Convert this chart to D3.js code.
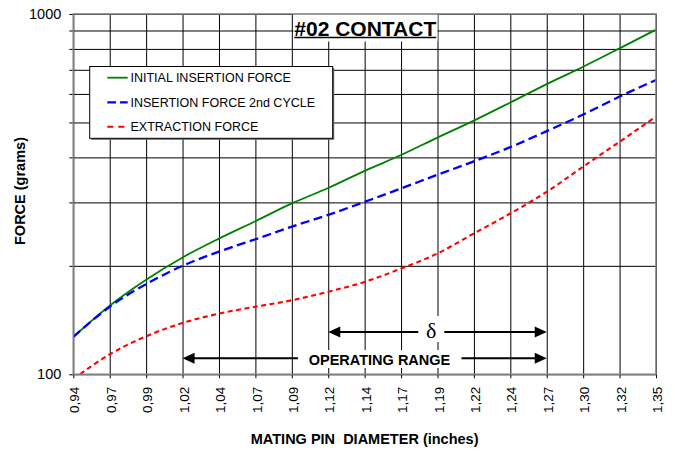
<!DOCTYPE html>
<html><head><meta charset="utf-8">
<script src="https://cdn.jsdelivr.net/npm/d3@7"></script>
<style>
body{margin:0;background:#fff}
svg{display:block}
text{font-family:"Liberation Sans",Arial,Helvetica,sans-serif;fill:#000}
</style>
</head><body>
<svg id="c" width="675" height="451"></svg>
<script>
// ---- data ----
const categories = ["0,94","0,97","0,99","1,02","1,04","1,07","1,09","1,12","1,14","1,17","1,19","1,22","1,24","1,27","1,30","1,32","1,35"];
const initialInsertion = [127,155,183,211,238,266,298,329,367,406,454,506,568,639,714,803,905];
const insertion2nd     = [127,154,178,200,219,237,257,277,301,328,358,390,427,473,526,590,656];
const extraction       = [97,113.6,127.5,138.8,147.4,154,160.5,169.5,180.5,196.5,216.5,246,279.5,321,377,442,519];
const seriesNames = ["INITIAL INSERTION FORCE","INSERTION FORCE 2nd CYCLE","EXTRACTION FORCE"];
const gridValues = [100,200,300,400,500,600,700,800,900,1000];
const yLabelValues = [100,1000];
const deltaRange = ["1,12","1,27"];
const operatingRange = ["1,02","1,27"];
const titleText = "#02 CONTACT";
const xTitle = "MATING PIN  DIAMETER (inches)";
const yTitle = "FORCE (grams)";

// ---- layout ----
const m = {l:73.3, r:656, t:14, b:374.3};
const pw = m.r - m.l, ph = m.b - m.t;
const svg = d3.select("#c");
const x = d3.scalePoint().domain(categories).range([m.l, m.r]);
const y = d3.scaleLog().domain([100,1000]).range([m.b, m.t]);

// grid (horizontal) with left ticks
const gY = svg.append("g").attr("transform",`translate(${m.l-4},0)`)
  .call(d3.axisRight(y).tickValues(gridValues).tickSize(pw+4).tickFormat(""));
gY.select(".domain").remove();
gY.selectAll("line").attr("stroke","#000").attr("stroke-width",1);

// grid (vertical) with bottom ticks
const gX = svg.append("g").attr("transform",`translate(0,${m.b+4})`)
  .call(d3.axisTop(x).tickSize(ph+4).tickFormat(""));
gX.select(".domain").remove();
gX.selectAll("line").attr("stroke","#000").attr("stroke-width",1);

// y labels
const yl = svg.append("g").attr("transform",`translate(${m.l},0)`)
  .call(d3.axisLeft(y).tickValues(yLabelValues).tickSize(0).tickPadding(12).tickFormat(d3.format("d")));
yl.select(".domain").remove();
yl.selectAll("text").style("font-size","14.5px").attr("fill","#000");

// x labels rotated
const xl = svg.append("g").attr("transform",`translate(0,${m.b})`)
  .call(d3.axisBottom(x).tickSize(0));
xl.select(".domain").remove();
xl.selectAll("text").style("font-size","13.5px").attr("fill","#000")
  .attr("transform","rotate(-90)").attr("x",-12.5).attr("y",0).attr("dy","0.42em")
  .style("text-anchor","end");

// clip
svg.append("clipPath").attr("id","clip").append("rect")
  .attr("x",m.l).attr("y",m.t).attr("width",pw).attr("height",ph);

const line = d3.line().x((d,i)=>x(categories[i])).y(d=>y(d)).curve(d3.curveMonotoneX);
const styles = [
  {data:initialInsertion, color:"#008000", dash:null, w:1.8},
  {data:insertion2nd, color:"#0000ff", dash:"9,4.5", w:2.3},
  {data:extraction, color:"#ff0000", dash:"5,3.5", w:2.1}
];
const gl = svg.append("g").attr("clip-path","url(#clip)");
styles.forEach(s=>{
  gl.append("path").attr("d",line(s.data)).attr("fill","none")
    .attr("stroke",s.color).attr("stroke-width",s.w)
    .attr("stroke-dasharray",s.dash);
});

// annotations
function arrowHead(g, xt, yy, dir){
  const L=12, H=5.5;
  g.append("path").attr("d",`M${xt},${yy} L${xt-dir*L},${yy-H} L${xt-dir*L},${yy+H} Z`).attr("fill","#000");
}
const ga = svg.append("g");
// delta
{
  const x1=x(deltaRange[0]), x2=x(deltaRange[1]), yy=332, cx=431.3;
  ga.append("rect").attr("x",cx-13).attr("y",316).attr("width",26).attr("height",26).attr("fill","#fff");
  ga.append("line").attr("x1",x1+10).attr("x2",cx-13).attr("y1",yy).attr("y2",yy).attr("stroke","#000").attr("stroke-width",2);
  ga.append("line").attr("x1",cx+13).attr("x2",x2-10).attr("y1",yy).attr("y2",yy).attr("stroke","#000").attr("stroke-width",2);
  arrowHead(ga,x1,yy,-1); arrowHead(ga,x2,yy,1);
  ga.append("text").attr("x",cx).attr("y",yy+6).attr("text-anchor","middle")
    .style("font-family","'Liberation Serif','DejaVu Serif',serif").style("font-size","22px").text("δ");
}
// operating range
{
  const x1=x(operatingRange[0]), x2=x(operatingRange[1]), yy=358.3;
  ga.append("rect").attr("x",299).attr("y",350).attr("width",161).attr("height",18).attr("fill","#fff");
  ga.append("line").attr("x1",x1+10).attr("x2",298).attr("y1",yy).attr("y2",yy).attr("stroke","#000").attr("stroke-width",2);
  ga.append("line").attr("x1",461.5).attr("x2",x2-10).attr("y1",yy).attr("y2",yy).attr("stroke","#000").attr("stroke-width",2);
  arrowHead(ga,x1,yy,-1); arrowHead(ga,x2,yy,1);
  ga.append("text").attr("x",379.5).attr("y",365.2).attr("text-anchor","middle")
    .style("font-weight","bold").style("font-size","14.5px").text("OPERATING RANGE");
}

// title
svg.append("rect").attr("x",293.5).attr("y",m.t).attr("width",144).attr("height",27.5).attr("fill","#fff");
const tt = svg.append("text").attr("x",294.3).attr("y",36).style("font-weight","bold").style("font-size","21px").text(titleText);
const tw = tt.node().getComputedTextLength();
svg.append("line").attr("x1",294.3).attr("x2",294.3+tw).attr("y1",37.6).attr("y2",37.6).attr("stroke","#000").attr("stroke-width",1.5);

// frame
svg.append("rect").attr("x",m.l).attr("y",m.t).attr("width",pw).attr("height",ph)
  .attr("fill","none").attr("stroke","#808080").attr("stroke-width",1.6);

// legend
const lg = svg.append("g");
const lx=89.7, ly=66.5, lw=243, lh=71.8;
lg.append("rect").attr("x",lx+1.5).attr("y",ly+1.5).attr("width",lw).attr("height",lh).attr("fill","#666");
lg.append("rect").attr("x",lx).attr("y",ly).attr("width",lw).attr("height",lh).attr("fill","#fff").attr("stroke","#000").attr("stroke-width",1);
const rowsY=[77.7,102.3,126.7];
const legDash=[null,"8.7,4","6,5"];
styles.forEach((s,i)=>{
  lg.append("line").attr("x1",107.3).attr("x2",127.7).attr("y1",rowsY[i]).attr("y2",rowsY[i])
    .attr("stroke",s.color).attr("stroke-width",s.w).attr("stroke-dasharray",legDash[i]);
  lg.append("text").attr("x",130.5).attr("y",rowsY[i]+4.5).style("font-size","12.5px").text(seriesNames[i]);
});

// axis titles
svg.append("text").attr("x",(m.l+m.r)/2).attr("y",444).attr("text-anchor","middle")
  .style("font-weight","bold").style("font-size","14.5px").style("white-space","pre").attr("xml:space","preserve").text(xTitle);
svg.append("text").attr("transform",`translate(25,191) rotate(-90)`).attr("text-anchor","middle")
  .style("font-weight","bold").style("font-size","14.5px").text(yTitle);
</script>
</body></html>
